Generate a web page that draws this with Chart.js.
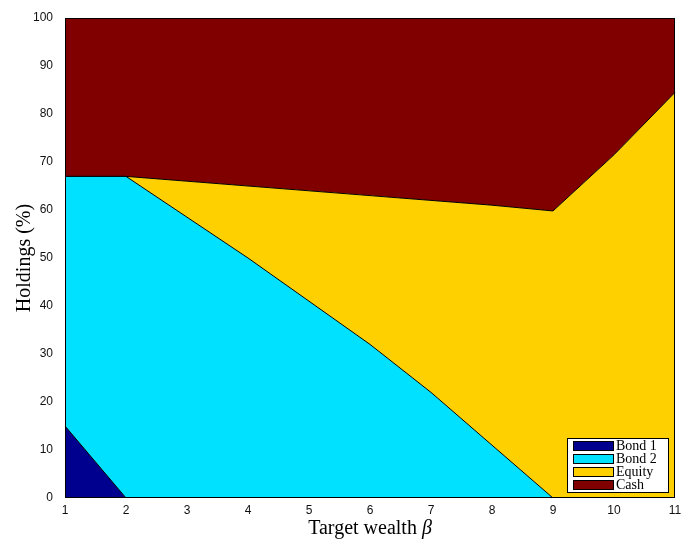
<!DOCTYPE html>
<html>
<head>
<meta charset="utf-8">
<script src="https://cdn.jsdelivr.net/npm/chart.js@4.4.1/dist/chart.umd.min.js"></script>
<style>
  html, body { margin: 0; padding: 0; background: #fff; }
  #wrap { width: 686px; height: 550px; }
</style>
</head>
<body>
<div id="wrap"><canvas id="grafica" width="686" height="550"></canvas></div>
<script>
// target wealth beta
const beta = ["1", "2", "3", "4", "5", "6", "7", "8", "9", "10", "11"];

// holdings in %, stacked bottom to top
const bond1  = [15, 0, 0, 0, 0, 0, 0, 0, 0, 0, 0];
const bond2  = [52, 67, 58.5, 50, 41, 32, 22, 11, 0, 0, 0];
const equity = [0, 0, 7.5, 15, 23, 31, 40, 50, 59.8, 71.5, 84.5];
const cash   = [33, 33, 34, 35, 36, 37, 38, 39, 40.2, 28.5, 15.5];

const names  = ["Bond 1", "Bond 2", "Equity", "Cash"];
const colores = ["#00008F", "#00E0FF", "#FFD000", "#800000"];
const yTicks = [0, 10, 20, 30, 40, 50, 60, 70, 80, 90, 100];

const series = [bond1, bond2, equity, cash];
const serif = "'Liberation Serif', 'Times New Roman', serif";

// frame, axis titles and the legend in the lower right corner
const marco = {
    id: "marco",
    afterDatasetsDraw(chart) {
        const a = chart.chartArea;
        const c = chart.ctx;
        c.save();
        c.strokeStyle = "#000";
        c.lineWidth = 1;
        c.strokeRect(a.left + 0.5, a.top + 0.5, a.right - a.left - 1, a.bottom - a.top - 1);

        // x title, beta in italics
        c.fillStyle = "#000";
        c.textBaseline = "alphabetic";
        const t1 = "Target wealth ";
        c.font = "italic 20px " + serif;
        const wb = c.measureText("β").width;
        c.font = "20px " + serif;
        const w1 = c.measureText(t1).width;
        const x0 = (a.left + a.right) / 2 - (w1 + wb) / 2;
        c.fillText(t1, x0, 534);
        c.font = "italic 20px " + serif;
        c.fillText("β", x0 + w1, 534);

        // y title
        c.save();
        c.translate(30, (a.top + a.bottom) / 2);
        c.rotate(-Math.PI / 2);
        c.font = "20px " + serif;
        c.textAlign = "center";
        c.fillText("Holdings (%)", 0, 0);
        c.restore();

        // legend box
        const bx = 567, by = 438, bw = 101, bh = 54;
        c.fillStyle = "#fff";
        c.fillRect(bx, by, bw, bh);
        c.strokeRect(bx + 0.5, by + 0.5, bw, bh);
        c.font = "14px " + serif;
        c.textBaseline = "middle";
        names.forEach(function (n, i) {
            const y = by + 3 + i * 13;
            c.fillStyle = colores[i];
            c.fillRect(573, y + 0.5, 40, 9);
            c.strokeStyle = "#000";
            c.strokeRect(573.5, y + 0.5, 40, 9);
            c.fillStyle = "#000";
            c.fillText(n, 616, y + 5);
        });
        c.restore();
    }
};

const ctx = document.getElementById("grafica").getContext("2d");
new Chart(ctx, {
    type: "line",
    data: {
        labels: beta,
        datasets: series.map(function (d, i) {
            return {
                label: names[i],
                data: d,
                backgroundColor: colores[i],
                borderColor: "#000",
                borderWidth: 1,
                pointRadius: 0,
                tension: 0,
                fill: i === 0 ? "origin" : "-1"
            };
        })
    },
    options: {
        responsive: false,
        animation: false,
        layout: { padding: { top: 18, right: 11, left: 0, bottom: 0 } },
        plugins: {
            legend: { display: false },
            tooltip: { enabled: false }
        },
        scales: {
            x: {
                offset: false,
                grid: { display: false },
                border: { display: false },
                ticks: {
                    color: "#111",
                    font: { family: "'Liberation Sans', Arial, sans-serif", size: 12 },
                    maxRotation: 0,
                    padding: -3
                },
                afterFit(scale) { scale.height = 52; }
            },
            y: {
                stacked: true,
                min: 0,
                max: 100,
                grid: { display: false },
                border: { display: false },
                afterBuildTicks(scale) {
                    scale.ticks = yTicks.map(function (v) { return { value: v }; });
                },
                ticks: {
                    color: "#111",
                    font: { family: "'Liberation Sans', Arial, sans-serif", size: 12 },
                    padding: 4
                },
                afterFit(scale) { scale.width = 65; }
            }
        }
    },
    plugins: [marco]
});
</script>
</body>
</html>
